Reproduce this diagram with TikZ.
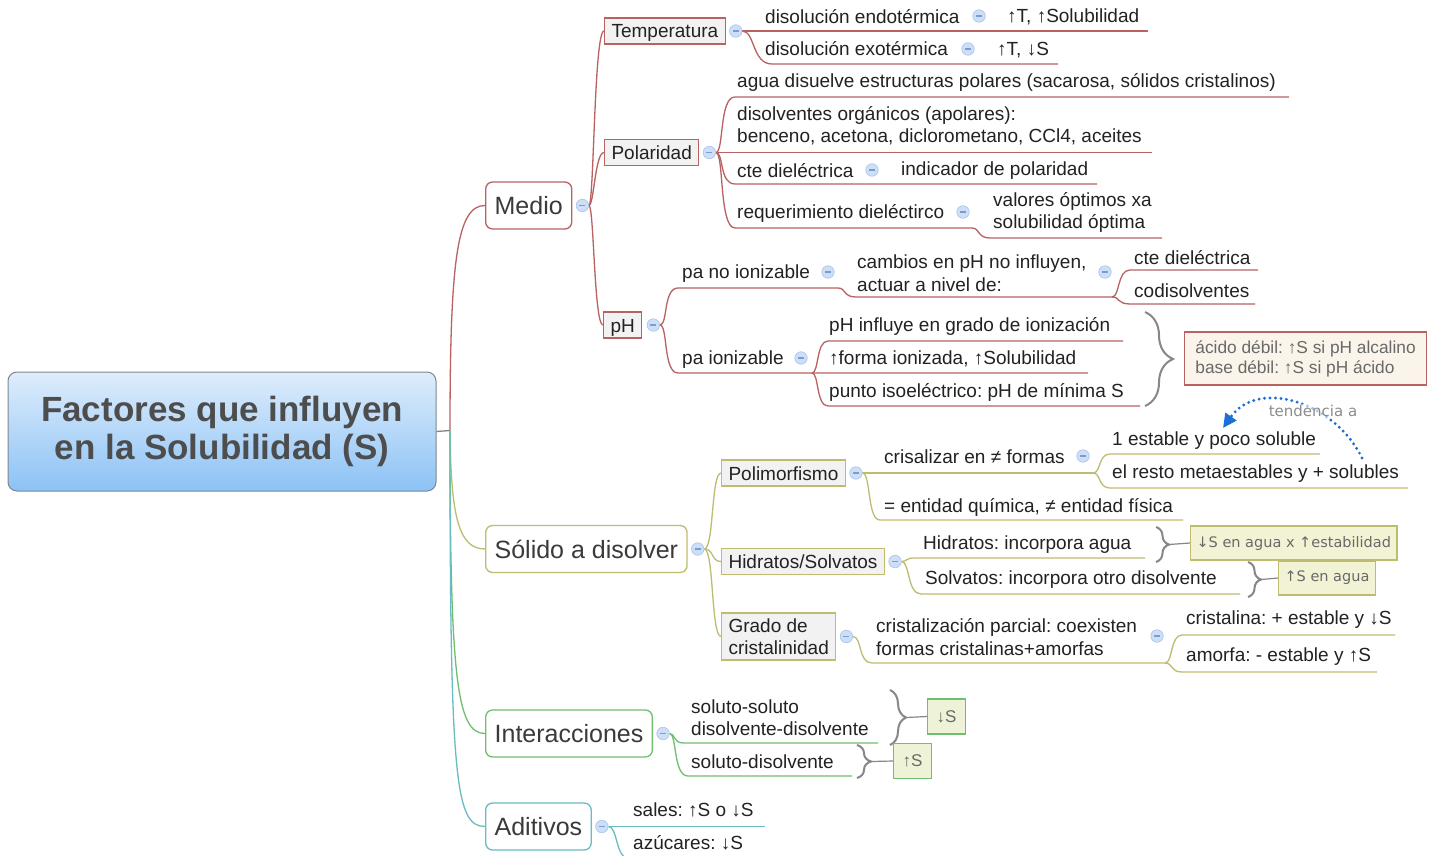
\documentclass[tikz,border=0pt]{standalone}
\usepackage{fontspec}
\setmainfont{Liberation Sans}
\newfontfamily\dvsans{DejaVu Sans}
\usetikzlibrary{arrows.meta,decorations.pathreplacing}
\frenchspacing

\definecolor{ink}{RGB}{34,34,34}
\definecolor{maintext}{RGB}{58,58,58}
\definecolor{titletext}{RGB}{77,77,77}
\definecolor{rootedge}{RGB}{125,135,145}
\definecolor{roottop}{RGB}{222,237,252}
\definecolor{rootbot}{RGB}{140,194,245}
\definecolor{redl}{RGB}{184,98,98}
\definecolor{olivel}{RGB}{190,188,112}
\definecolor{greenl}{RGB}{112,190,112}
\definecolor{teall}{RGB}{104,188,194}
\definecolor{hubgray}{RGB}{130,130,130}
\definecolor{subfill}{RGB}{242,242,242}
\definecolor{togfill}{RGB}{205,222,247}
\definecolor{togdraw}{RGB}{168,195,238}
\definecolor{togminus}{RGB}{125,155,205}
\definecolor{notefill}{RGB}{250,244,234}
\definecolor{notetext}{RGB}{105,105,105}
\definecolor{calloutfill}{RGB}{242,242,212}
\definecolor{calloutgreen}{RGB}{238,243,216}
\definecolor{bracegray}{RGB}{135,135,135}
\definecolor{arrowblue}{RGB}{30,110,215}
\definecolor{hintgray}{RGB}{140,140,140}

\newcommand\fsz[2]{\fontsize{#1}{#2}\selectfont\frenchspacing}

\pgfdeclarelayer{background}
\pgfdeclarelayer{links}
\pgfsetlayers{background,links,main}

\tikzset{
  every node/.style={inner sep=0pt},
  root/.style={draw=rootedge, line width=1pt, rounded corners=9pt,
    top color=roottop, bottom color=rootbot, minimum width=428pt,
    minimum height=119pt, align=center, font=\fsz{35}{38}\bfseries, text=titletext},
  mainbox/.style={draw=#1, line width=1.3pt, rounded corners=7pt, fill=white,
    font=\fsz{25}{30}, text=maintext, inner xsep=9pt, minimum height=47pt,
    anchor=west, text height=21pt, text depth=3pt},
  subbase/.style={draw=#1, line width=1.1pt, fill=subfill, font=\fsz{19}{22.5},
    text=ink, inner xsep=7pt, anchor=west},
  subbox/.style={subbase=#1, minimum height=26pt, text height=17pt, text depth=3pt},
  subtwo/.style={subbase=#1, minimum height=47pt, align=left},
  lbl/.style={font=\fsz{19}{22.5}, text=ink, anchor=west, text height=17pt, text depth=3pt},
  lbltwo/.style={font=\fsz{19}{22.5}, text=ink, anchor=west, align=left},
  tog/.style={circle, minimum size=12.5pt, fill=togfill, draw=togdraw, line width=0.6pt,
    path picture={\draw[togminus, line width=1.1pt]
      ([xshift=-3pt]path picture bounding box.center) --
      ([xshift=3pt]path picture bounding box.center);}},
  note/.style={draw=redl, line width=1.1pt, fill=notefill, text=notetext,
    font=\fsz{17.3}{20}, align=left, inner xsep=8pt, minimum width=242pt,
    minimum height=53pt, anchor=west},
  callout/.style={draw=#1, line width=1.1pt, fill=calloutfill, text=notetext,
    font=\dvsans\fsz{14.5}{17}, inner xsep=6pt, minimum height=34pt, anchor=west},
  calloutg/.style={draw=#1, line width=1.1pt, fill=calloutgreen, text=notetext,
    font=\fsz{17}{20}, minimum width=38pt, minimum height=35pt, anchor=west},
  link/.style={draw=#1, line width=1.3pt},
  squig/.style={draw=bracegray, line width=2pt, decorate,
    decoration={brace, amplitude=#1}},
  tail/.style={draw=bracegray, line width=1.2pt},
  hint/.style={font=\dvsans\fsz{15}{18}, text=hintgray, fill=white, fill opacity=0.6,
    text opacity=1, inner sep=1pt},
  dotted arrow/.style={draw=arrowblue, line width=3.2pt, line cap=round,
    dash pattern=on 0pt off 5.5pt, -{Triangle[length=14pt,width=13pt,fill=arrowblue]}}
}

\begin{document}
\begin{tikzpicture}[x=1pt, y=-1pt]
\useasboundingbox (0,0) rectangle (1434,856);
\begin{pgfonlayer}{background}
  \fill[white] (0,0) rectangle (1434,856);
\end{pgfonlayer}

% ---------- centre ----------
\node[root] (root) at (222,431.5) {Factores que influyen\\en la Solubilidad (S)};
\coordinate (hub) at (450,430.5);

% ---------- main topics ----------
\node[mainbox=redl]   (medio)    at (485,205.5) {Medio};
\node[mainbox=olivel] (solido)   at (485,549)   {Sólido a disolver};
\node[mainbox=greenl] (inter)    at (485,733.5) {Interacciones};
\node[mainbox=teall]  (aditivos) at (485,826.5) {Aditivos};
\node[tog] (tmedio)  at ([xshift=10pt]medio.east) {};
\node[tog] (tsolido) at ([xshift=10pt]solido.east) {};
\node[tog] (tinter)  at ([xshift=10pt]inter.east) {};
\node[tog] (tadit)   at ([xshift=10pt]aditivos.east) {};

% ---------- Medio ----------
\node[subbox=redl] (temp)  at (604,31)    {Temperatura};
\node[subbox=redl] (polar) at (604,152.5) {Polaridad};
\node[subbox=redl] (ph)    at (603,325)   {pH};
\node[tog] (ttemp)  at ([xshift=10pt]temp.east) {};
\node[tog] (tpolar) at ([xshift=10pt]polar.east) {};
\node[tog] (tph)    at ([xshift=11pt]ph.east) {};

% Temperatura
\node[lbl] (endo)  at (765,16.5) {disolución endotérmica};
\node[tog] (tendo) at (979,16) {};
\node[lbl] (endoS) at (1007,15.5) {↑T, ↑Solubilidad};
\node[lbl] (exo)   at (765,49) {disolución exotérmica};
\node[tog] (texo)  at (968,49) {};
\node[lbl] (exoS)  at (997,48.5) {↑T, ↓S};

% Polaridad
\node[lbl] (agua) at (737,81) {agua disuelve estructuras polares (sacarosa, sólidos cristalinos)};
\node[lbltwo] (apol) at (737,125.5) {disolventes orgánicos (apolares):\\benceno, acetona, diclorometano, CCl4, aceites};
\node[lbl] (cte)   at (737,170) {cte dieléctrica};
\node[tog] (tcte)  at (872,170) {};
\node[lbl] (indic) at (901,168) {indicador de polaridad};
\node[lbl] (req)   at (737,211) {requerimiento dieléctirco};
\node[tog] (treq)  at (963,212) {};
\node[lbltwo] (valores) at (993,212.5) {valores óptimos xa\\solubilidad óptima};

% pH
\node[lbl] (pano)  at (682,271) {pa no ionizable};
\node[tog] (tpano) at (828,272) {};
\node[lbltwo] (cambios) at (857,273) {cambios en pH no influyen,\\actuar a nivel de:};
\node[tog] (tcambios) at (1105,272) {};
\node[lbl] (cteb)  at (1134,257) {cte dieléctrica};
\node[lbl] (codis) at (1134,290) {codisolventes};
\node[lbl] (paion) at (682,357) {pa ionizable};
\node[tog] (tpaion) at (801,358) {};
\node[lbl] (influye) at (829,324) {pH influye en grado de ionización};
\node[lbl] (forma)   at (829,357) {↑forma ionizada, ↑Solubilidad};
\node[lbl] (punto)   at (829,390) {punto isoeléctrico: pH de mínima S};
\node[note] (acido) at (1184,358.5) {ácido débil: ↑S si pH alcalino\\base débil: ↑S si pH ácido};

% ---------- Sólido a disolver ----------
\node[subbox=olivel] (poli)  at (721,473)   {Polimorfismo};
\node[subbox=olivel] (hidr)  at (721,561.5) {Hidratos/Solvatos};
\node[subtwo=olivel] (grado) at (721,636.5) {Grado de\\cristalinidad};
\node[tog] (tpoli)  at ([xshift=10pt]poli.east) {};
\node[tog] (thidr)  at ([xshift=10pt]hidr.east) {};
\node[tog] (tgrado) at ([xshift=10pt]grado.east) {};

\node[lbl] (crisal)  at (884,456) {crisalizar en ≠ formas};
\node[tog] (tcrisal) at (1083,456) {};
\node[lbl] (estable) at (1112,438) {1 estable y poco soluble};
\node[lbl] (resto)   at (1112,471) {el resto metaestables y + solubles};
\node[lbl] (entidad) at (884,505) {= entidad química, ≠ entidad física};
\node[hint] (tend) at (1313,411) {tendencia a};

\node[lbl] (hidratos) at (923,542) {Hidratos: incorpora agua};
\node[lbl] (solvatos) at (925,577) {Solvatos: incorpora otro disolvente};
\node[callout=olivel] (hidS) at (1190,543) {↓S en agua x ↑estabilidad};
\node[callout=olivel] (solS) at (1278,578) {↑S en agua};

\node[lbltwo] (parcial) at (876,637) {cristalización parcial: coexisten\\formas cristalinas+amorfas};
\node[tog] (tparcial) at (1157,636) {};
\node[lbl] (cristalina) at (1186,617) {cristalina: + estable y ↓S};
\node[lbl] (amorfa)     at (1186,654) {amorfa: - estable y ↑S};

% ---------- Interacciones ----------
\node[lbltwo] (ss) at (691,717.5) {soluto-soluto\\disolvente-disolvente};
\node[lbl] (sd) at (691,761) {soluto-disolvente};
\node[calloutg=greenl] (downS) at (927,716.5) {↓S};
\node[calloutg=greenl] (upS)   at (893,761)   {↑S};

% ---------- Aditivos ----------
\node[lbl] (sales)  at (633,809.5) {sales: ↑S o ↓S};
\node[lbl] (azucar) at (633,842)   {azúcares: ↓S};

% ---------- connectors ----------
\begin{pgfonlayer}{links}
  \draw[hubgray, line width=1.3pt] (root.east) -- (hub);
  \draw[link=redl]   (hub) .. controls (450,260) and (457,205.5) .. (medio.west);
  \draw[link=olivel] (hub) .. controls (451,515) and (458,549) .. (solido.west);
  \draw[link=greenl] (hub) .. controls (450,680) and (457,733.5) .. (inter.west);
  \draw[link=teall]  (hub) .. controls (450,780) and (455,826.5) .. (aditivos.west);

  % Medio
  \draw[link=redl] (tmedio.east) .. controls (594,205.5) and (594,31) .. (temp.west);
  \draw[link=redl] (tmedio.east) .. controls (594,205.5) and (595,152.5) .. (polar.west);
  \draw[link=redl] (tmedio.east) .. controls (594,205.5) and (594,325) .. (ph.west);

  % Temperatura
  \draw[link=redl] (ttemp.east) -- (1148,31);
  \draw[link=redl] (ttemp.east) .. controls (755,31) and (752,64) .. (772,64) -- (1058,64);

  % Polaridad
  \draw[link=redl] (tpolar.east) .. controls (724,152.5) and (719,97) .. (735,97) -- (1289,97);
  \draw[link=redl] (tpolar.east) -- (1152,152.5);
  \draw[link=redl] (tpolar.east) .. controls (724,152.5) and (719,184) .. (735,184) -- (1097,184);
  \draw[link=redl] (tpolar.east) .. controls (724,152.5) and (719,228) .. (735,228) -- (972,228)
     .. controls (980,228) and (977,238) .. (990,238) -- (1162,238);

  % pH
  \coordinate (jcambios) at (1112,297);
  \coordinate (jpaion) at (812,373);
  \draw[link=redl] (tph.east) .. controls (668,325) and (663,288) .. (678,288) -- (838,288)
     .. controls (846,288) and (843,297) .. (856,297) -- (jcambios);
  \draw[link=redl] (jcambios) .. controls (1120,297) and (1117,270) .. (1130,270) -- (1258,270);
  \draw[link=redl] (jcambios) .. controls (1120,297) and (1117,304) .. (1130,304) -- (1255,304);
  \draw[link=redl] (tph.east) .. controls (668,325) and (663,373) .. (678,373) -- (1088,373);
  \draw[link=redl] (jpaion) .. controls (819,373) and (816,341) .. (828,341) -- (1123,341);
  \draw[link=redl] (jpaion) .. controls (819,373) and (816,406) .. (828,406) -- (1140,406);
  \draw[squig=28pt] (1145,312) -- (1145,406);

  % Sólido a disolver
  \draw[link=olivel] (tsolido.east) .. controls (714,549) and (711,473) .. (poli.west);
  \draw[link=olivel] (tsolido.east) .. controls (714,549) and (711,561.5) .. (hidr.west);
  \draw[link=olivel] (tsolido.east) .. controls (714,549) and (711,636.5) .. (grado.west);

  \coordinate (jcrisal) at (1093,473);
  \draw[link=olivel] (tpoli.east) -- (jcrisal);
  \draw[link=olivel] (jcrisal) .. controls (1101,473) and (1098,454) .. (1110,454) -- (1320,454);
  \draw[link=olivel] (jcrisal) .. controls (1101,473) and (1098,488) .. (1110,488) -- (1408,488);
  \draw[link=olivel] (tpoli.east) .. controls (871,473) and (867,520) .. (880,520) -- (1183,520);

  \draw[link=olivel] (thidr.east) .. controls (907,561.5) and (906,558) .. (914,558) -- (1145,558);
  \draw[link=olivel] (thidr.east) .. controls (910,561.5) and (907,594) .. (921,594) -- (1240,594);
  \draw[squig=13pt] (1156,527) -- (1156,562);
  \draw[tail] (1169,544.5) -- (hidS.west);
  \draw[squig=13pt] (1248,562) -- (1248,597);
  \draw[tail] (1261,579.5) -- (solS.west);

  \coordinate (jparcial) at (1165,663);
  \draw[link=olivel] (tgrado.east) .. controls (862,636.5) and (858,663) .. (872,663) -- (jparcial);
  \draw[link=olivel] (jparcial) .. controls (1173,663) and (1170,635) .. (1182,635) -- (1395,635);
  \draw[link=olivel] (jparcial) .. controls (1173,663) and (1170,672) .. (1182,672) -- (1377,672);

  % Interacciones
  \draw[link=greenl] (tinter.east) .. controls (676,733.5) and (672,743) .. (684,743) -- (878,743);
  \draw[link=greenl] (tinter.east) .. controls (677,733.5) and (673,776) .. (688,776) -- (852,776);
  \draw[squig=16pt] (890,690) -- (890,745);
  \draw[tail] (906,717.5) -- (downS.west);
  \draw[squig=14pt] (857,745) -- (857,778);
  \draw[tail] (871,761.5) -- (upS.west);

  % Aditivos
  \draw[link=teall] (tadit.east) -- (765,826.5);
  \draw[link=teall] (tadit.east) .. controls (618,826.5) and (615,859) .. (630,859) -- (760,859);
\end{pgfonlayer}

% dotted "tendencia a" arrow
\coordinate (tendfrom) at (1362,458);
\coordinate (tendto) at (1223,428);
\begin{pgfonlayer}{links}
  \draw[dotted arrow] (tendfrom) .. controls (1335,402) and (1258,378) .. (tendto);
\end{pgfonlayer}
\end{tikzpicture}
\end{document}
